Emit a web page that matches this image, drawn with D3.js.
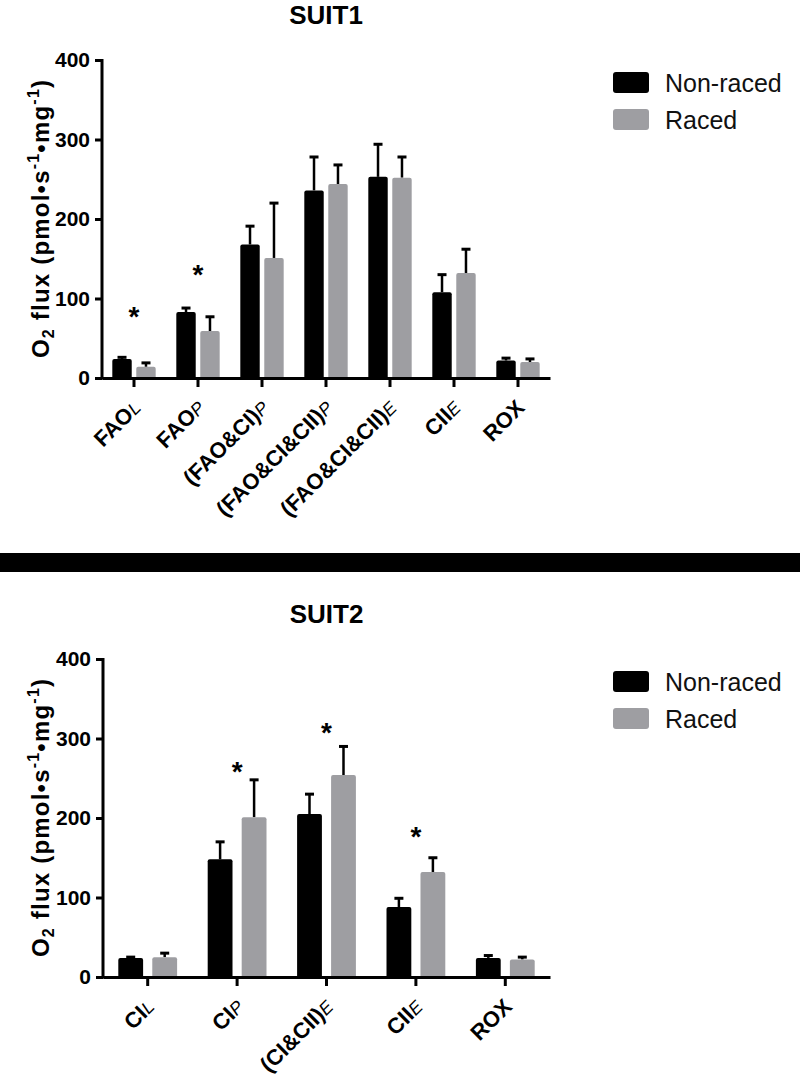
<!DOCTYPE html>
<html><head><meta charset="utf-8">
<script src="https://cdn.jsdelivr.net/npm/d3@7"></script>
<style>body{margin:0;background:#fff}svg{display:block}</style>
</head><body>
<svg id="c" width="800" height="1079"></svg>
<script>
// ---------- data ----------
const series = ["Non-raced", "Raced"];
const yTicks = [0, 100, 200, 300, 400];

const suit1Categories = [["FAO","L"],["FAO","P"],["(FAO&CI)","P"],["(FAO&CI&CII)","P"],["(FAO&CI&CII)","E"],["CII","E"],["ROX",""]];
const suit1NonRaced = [24, 83, 168, 236, 253, 108, 22];
const suit1NonRacedErr = [2, 5, 23, 42, 41, 22, 3];
const suit1Raced = [14, 59, 151, 244, 252, 132, 20];
const suit1RacedErr = [5, 18, 69, 24, 26, 30, 4];
const suit1Stars = [86, 138, null, null, null, null, null];

const suit2Categories = [["CI","L"],["CI","P"],["(CI&CII)","E"],["CII","E"],["ROX",""]];
const suit2NonRaced = [24, 148, 205, 88, 24];
const suit2NonRacedErr = [1, 22, 25, 11, 3];
const suit2Raced = [25, 201, 254, 132, 22];
const suit2RacedErr = [5, 47, 36, 18, 3];
const suit2Stars = [null, 267, 316, 185, null];

const colors = ["#000000", "#9e9ea2"];
const FONT = "'Liberation Sans', Arial, Helvetica, sans-serif";

const svg = d3.select("#c");

function drawChart(cfg) {
  const g = svg.append("g");
  const keys = cfg.cats.map(c => c[0] + c[1]);
  const x0 = d3.scaleBand().domain(keys).range([cfg.left, cfg.right]).padding(0);
  const x1 = d3.scaleBand().domain(series).range([0, x0.bandwidth()])
    .paddingInner(cfg.pi).paddingOuter(cfg.po);
  const y = d3.scaleLinear().domain([0, 400]).range([cfg.bottom, cfg.top]);

  // title
  g.append("text").attr("x", (cfg.left + cfg.right) / 2).attr("y", cfg.titleY)
    .attr("text-anchor", "middle").attr("font-family", FONT)
    .attr("font-weight", "bold").attr("font-size", 26).text(cfg.title);

  const rows = keys.map((k, i) => ({
    k, i,
    vals: [
      {s: series[0], v: cfg.nr[i], e: cfg.nrE[i]},
      {s: series[1], v: cfg.r[i], e: cfg.rE[i]}
    ]
  }));

  const grp = g.selectAll("g.grp").data(rows).join("g")
    .attr("transform", d => `translate(${x0(d.k)},0)`);

  // error bars (upward)
  grp.selectAll("line.eb").data(d => d.vals).join("line")
    .attr("x1", d => x1(d.s) + x1.bandwidth() / 2)
    .attr("x2", d => x1(d.s) + x1.bandwidth() / 2)
    .attr("y1", d => y(d.v)).attr("y2", d => y(d.v + d.e))
    .attr("stroke", "#000").attr("stroke-width", 2.5);
  grp.selectAll("line.cap").data(d => d.vals).join("line")
    .attr("x1", d => x1(d.s) + x1.bandwidth() / 2 - 4.5)
    .attr("x2", d => x1(d.s) + x1.bandwidth() / 2 + 4.5)
    .attr("y1", d => y(d.v + d.e)).attr("y2", d => y(d.v + d.e))
    .attr("stroke", "#000").attr("stroke-width", 3);

  // bars
  grp.selectAll("rect").data(d => d.vals).join("rect")
    .attr("x", d => x1(d.s)).attr("width", x1.bandwidth())
    .attr("y", d => y(d.v)).attr("height", d => y(0) - y(d.v) + 2)
    .attr("rx", 2)
    .attr("fill", (d, j) => colors[j]);

  // stars
  g.selectAll("text.star").data(rows.filter(d => cfg.stars[d.i] != null)).join("text")
    .attr("x", d => x0(d.k) + x0.bandwidth() / 2)
    .attr("y", d => y(cfg.stars[d.i]) + 16)
    .attr("text-anchor", "middle").attr("font-family", FONT)
    .attr("font-weight", "bold").attr("font-size", 28).text("*");

  // y axis
  const ya = g.append("g").attr("transform", `translate(${cfg.left},0)`)
    .call(d3.axisLeft(y).tickValues(yTicks).tickSize(7).tickSizeOuter(0).tickPadding(5));
  ya.select(".domain").attr("stroke-width", 3).attr("d", `M0,${cfg.top - 1}V${cfg.bottom + 1.5}`);
  ya.selectAll(".tick line").attr("stroke-width", 3);
  ya.selectAll(".tick text").attr("font-family", FONT).attr("font-weight", "bold")
    .attr("font-size", 21).attr("fill", "#000");

  // x axis
  const xa = g.append("g").attr("transform", `translate(0,${cfg.bottom})`)
    .call(d3.axisBottom(x0).tickSize(9).tickSizeOuter(0).tickFormat(""));
  xa.select(".domain").attr("stroke-width", 3);
  xa.selectAll(".tick line").attr("stroke-width", 3);

  // x labels
  const lab = g.selectAll("text.xl").data(cfg.cats).join("text")
    .attr("transform", (d, i) => `translate(${x0(keys[i]) + x0.bandwidth() / 2 + 8},${cfg.bottom + 31}) rotate(-45)`)
    .attr("text-anchor", "end").attr("font-family", FONT)
    .attr("font-weight", "bold").attr("font-size", 22).attr("fill", "#000");
  lab.append("tspan").text(d => d[0]);
  lab.append("tspan").attr("font-weight", "normal").attr("font-style", "italic")
    .attr("font-size", 18).text(d => d[1]);

  // y title
  const yt = g.append("text")
    .attr("transform", `translate(49,${(cfg.top + cfg.bottom) / 2}) rotate(-90)`)
    .attr("text-anchor", "middle").attr("font-family", FONT)
    .attr("font-weight", "bold").attr("font-size", 24)
    .attr("textLength", 278).attr("lengthAdjust", "spacing");
  yt.append("tspan").text("O");
  yt.append("tspan").attr("font-size", 16).attr("dy", 5).text("2");
  yt.append("tspan").attr("dy", -5).text(" flux (pmol•s");
  yt.append("tspan").attr("font-size", 16).attr("dy", -10).text("-1");
  yt.append("tspan").attr("dy", 10).text("•mg");
  yt.append("tspan").attr("font-size", 16).attr("dy", -10).text("-1");
  yt.append("tspan").attr("dy", 10).text(")");

  // legend
  const lg = g.selectAll("g.lg").data(series).join("g")
    .attr("transform", (d, i) => `translate(613,${cfg.legTop + i * 37})`);
  lg.append("rect").attr("width", 36).attr("height", 21).attr("rx", 3)
    .attr("fill", (d, i) => colors[i]);
  lg.append("text").attr("x", 52).attr("y", 20).attr("font-family", FONT)
    .attr("font-size", 25).attr("fill", "#111").text(d => d);
}

drawChart({
  title: "SUIT1", titleY: 24, cats: suit1Categories,
  nr: suit1NonRaced, nrE: suit1NonRacedErr, r: suit1Raced, rE: suit1RacedErr, stars: suit1Stars,
  left: 102, right: 550, top: 60, bottom: 378, pi: 0.19, po: 0.43, legTop: 72
});

svg.append("rect").attr("x", 0).attr("y", 553).attr("width", 800).attr("height", 19).attr("fill", "#000");

drawChart({
  title: "SUIT2", titleY: 623, cats: suit2Categories,
  nr: suit2NonRaced, nrE: suit2NonRacedErr, r: suit2Raced, rE: suit2RacedErr, stars: suit2Stars,
  left: 103, right: 550, top: 659, bottom: 977, pi: 0.27, po: 0.45, legTop: 671
});
</script>
</body></html>
